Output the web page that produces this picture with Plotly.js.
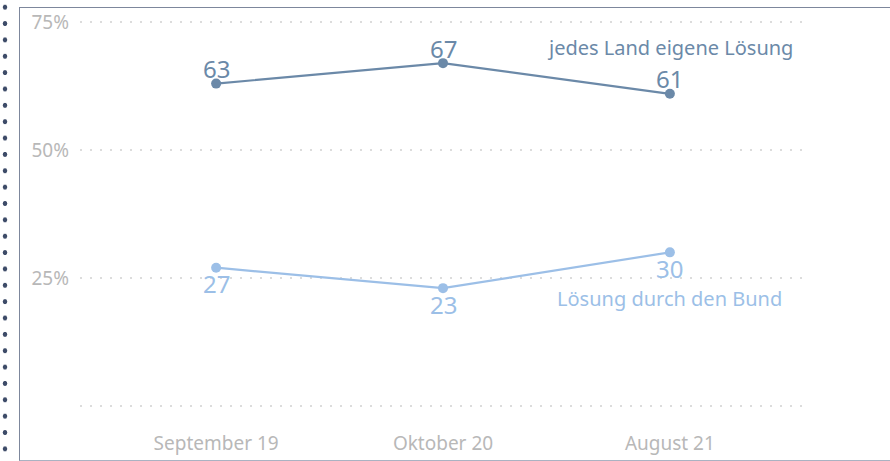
<!DOCTYPE html>
<html><head><meta charset="utf-8">
<script src="https://cdn.plot.ly/plotly-3.0.1.min.js"></script>
<style>
html,body{margin:0;padding:0;background:#fff;}
#wrap{position:relative;width:890px;height:461px;overflow:hidden;}
#chart{position:absolute;left:0;top:0;width:890px;height:461px;}
#dots{position:absolute;left:2px;top:-1px;width:6px;height:458px;
background-image:radial-gradient(circle,#3d4b68 2.2px,transparent 2.6px);
background-size:6px 16.36px;background-repeat:repeat-y;}
#frame{position:absolute;left:19px;top:7px;width:880px;height:452px;
border-left:1.5px solid #7d879c;border-top:1.5px solid #7d879c;border-bottom:1.5px solid #aab2c2;}
</style></head>
<body><div id="wrap"><div id="chart"></div><div id="frame"></div><div id="dots"></div></div>
<script>
const categories = ["September 19", "Oktober 20", "August 21"];
const landValues = [63, 67, 61];
const bundValues = [27, 23, 30];
const landName = "jedes Land eigene Lösung";
const bundName = "Lösung durch den Bund";
const yTickVals = [0, 25, 50, 75];
const yTickText = ["", "25%", "50%", "75%"];

const c1 = "#6b89a8", c2 = "#9cbfe7";
const font = "Noto Sans, sans-serif";

const traces = [
  {x: categories, y: landValues, type: "scatter", mode: "lines+markers",
   line: {color: c1, width: 2.2}, marker: {color: c1, size: 10},
   cliponaxis: false, hoverinfo: "none"},
  {x: categories, y: bundValues, type: "scatter", mode: "lines+markers",
   line: {color: c2, width: 2.2}, marker: {color: c2, size: 10},
   cliponaxis: false, hoverinfo: "none"}
];

const annotations = [];
categories.forEach((c, i) => {
  annotations.push({x: c, y: landValues[i], xref: "x", yref: "y", text: String(landValues[i]),
    showarrow: false, xanchor: "center", yanchor: "middle", yshift: 15,
    font: {family: font, size: 24, color: c1}});
  annotations.push({x: c, y: bundValues[i], xref: "x", yref: "y", text: String(bundValues[i]),
    showarrow: false, xanchor: "center", yanchor: "middle", yshift: -16,
    font: {family: font, size: 24, color: c2}});
});
annotations.push({x: categories[2], y: landValues[2], xref: "x", yref: "y", text: landName,
  xanchor: "center", yanchor: "middle", yshift: 46, showarrow: false,
  font: {family: font, size: 20, color: c1}});
annotations.push({x: categories[2], y: bundValues[2], xref: "x", yref: "y", text: bundName,
  xanchor: "center", yanchor: "middle", yshift: -46, showarrow: false,
  font: {family: font, size: 20, color: c2}});

const layout = {
  width: 890, height: 461,
  margin: {l: 80, r: 84, t: 12, b: 45},
  paper_bgcolor: "rgba(0,0,0,0)", plot_bgcolor: "rgba(0,0,0,0)",
  showlegend: false,
  font: {family: font},
  xaxis: {type: "category", range: [-0.6, 2.6], showgrid: false, zeroline: false,
    showline: false, ticks: "", ticklabelstandoff: 14,
    tickfont: {family: font, size: 19, color: "#b8b8b8"}, fixedrange: true},
  yaxis: {range: [-2, 77], tickvals: yTickVals, ticktext: yTickText,
    showgrid: true, gridcolor: "#dcdcdc", gridwidth: 2.2, griddash: "2px,8px",
    zeroline: false, showline: false, ticks: "", ticklabelstandoff: 10,
    tickfont: {family: font, size: 19, color: "#b8b8b8"}, fixedrange: true},
  annotations: annotations
};
Plotly.newPlot("chart", traces, layout, {displayModeBar: false, staticPlot: true});
</script></body></html>
